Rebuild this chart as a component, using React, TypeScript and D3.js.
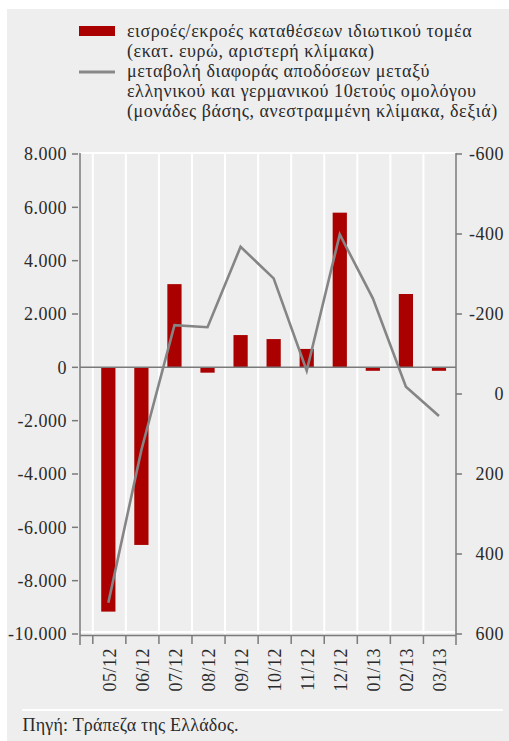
import React from "react";
import * as d3 from "d3";

const categories = ["05/12", "06/12", "07/12", "08/12", "09/12", "10/12", "11/12", "12/12", "01/13", "02/13", "03/13"];
const depositFlows = [-9160, -6660, 3120, -200, 1210, 1060, 690, 5800, -130, 2750, -130];
const spreadChange = [522, 140, -172, -167, -368, -289, -58, -399, -239, -18, 55];
const leftTicks = [8000, 6000, 4000, 2000, 0, -2000, -4000, -6000, -8000, -10000];
const rightTicks = [-600, -400, -200, 0, 200, 400, 600];
const legendLines = [
  "εισροές/εκροές καταθέσεων ιδιωτικού τομέα",
  "(εκατ. ευρώ, αριστερή κλίμακα)",
  "μεταβολή διαφοράς αποδόσεων μεταξύ",
  "ελληνικού και γερμανικού 10ετούς ομολόγου",
  "(μονάδες βάσης, ανεστραμμένη κλίμακα, δεξιά)",
];
const sourceText = "Πηγή: Τράπεζα της Ελλάδος.";

const W = 509;
const H = 741;
const FONT = "'Liberation Serif', 'DejaVu Serif', serif";

const fmt = (v: number) => {
  const s = d3.format(",")(Math.abs(v)).replace(/,/g, ".");
  return (v < 0 ? "-" : "") + s;
};

export default function App() {
  const x0 = 80;
  const x1 = 456;
  const yTop = 154;
  const yBot = 634;
  const x = d3.scaleBand<string>().domain(categories).range([92.8, 456.5]).padding(0);
  const yL = d3.scaleLinear().domain([-10000, 8000]).range([yBot, yTop]);
  const yR = d3.scaleLinear().domain([-600, 600]).range([yTop, yBot]);
  const bw = x.bandwidth();
  const barW = bw * 0.43;
  const cx = (c: string) => (x(c) as number) + bw / 2 - 1;

  const line = d3
    .line<number>()
    .x((_, i) => cx(categories[i]))
    .y((d) => yR(d));

  const textColor = "#2a2a2a";
  const axisColor = "#7a7a7a";

  return (
    <svg width={W} height={H} style={{ position: "absolute", left: 0, top: 0 }} fontFamily={FONT}>
      <rect x={7} y={9} width={W - 7} height={H - 9} fill="#eeeeee" />
      {/* legend */}
      <rect x={79} y={26} width={36} height={10} fill="#aa0000" />
      <line x1={79} x2={115} y1={72} y2={72} stroke="#888" strokeWidth={3} />
      {legendLines.map((t, i) => (
        <text key={i} x={127} y={37 + i * 20} fontSize={18} letterSpacing={0.55} fill={textColor}>
          {t}
        </text>
      ))}
      {/* gridlines */}
      {categories.map((c) => (
        <line key={c} x1={x(c)} x2={x(c)} y1={yTop - 1} y2={yBot} stroke="#fff" strokeWidth={2} />
      ))}
      <line x1={x0} x2={x1} y1={yTop - 1} y2={yTop - 1} stroke="#fff" strokeWidth={2} />
      <line x1={x0} x2={x1} y1={yBot - 2} y2={yBot - 2} stroke="#fff" strokeWidth={2} />
      {/* bars */}
      {categories.map((c, i) => {
        const v = depositFlows[i];
        const y0 = yL(0);
        const y1 = yL(v);
        return (
          <rect
            key={c}
            x={cx(c) - barW / 2}
            y={Math.min(y0, y1)}
            width={barW}
            height={Math.abs(y1 - y0)}
            fill="#aa0000"
          />
        );
      })}
      {/* zero line */}
      <line x1={x0} x2={x1} y1={yL(0)} y2={yL(0)} stroke={axisColor} strokeWidth={1.5} />
      {/* line series */}
      <path d={line(spreadChange) || ""} fill="none" stroke="#858585" strokeWidth={2.6} strokeLinejoin="miter" />
      {/* left axis */}
      <line x1={x0} x2={x0} y1={yTop - 1} y2={645} stroke={axisColor} strokeWidth={1.5} />
      {leftTicks.map((t) => (
        <g key={t}>
          <line x1={72} x2={78} y1={yL(t)} y2={yL(t)} stroke={axisColor} strokeWidth={1.5} />
          <text x={67} y={yL(t)} dy="0.35em" textAnchor="end" fontSize={18} letterSpacing={0.5} fill={textColor}>
            {fmt(t)}
          </text>
        </g>
      ))}
      {/* right axis */}
      <line x1={x1} x2={x1} y1={yTop - 1} y2={645} stroke={axisColor} strokeWidth={1.5} />
      {rightTicks.map((t) => (
        <g key={t}>
          <line x1={x1} x2={462} y1={yR(t)} y2={yR(t)} stroke={axisColor} strokeWidth={1.5} />
          <text x={504} y={yR(t)} dy="0.35em" textAnchor="end" fontSize={18} letterSpacing={0.5} fill={textColor}>
            {fmt(t)}
          </text>
        </g>
      ))}
      {/* bottom axis */}
      <line x1={x0} x2={x1} y1={635.5} y2={635.5} stroke={axisColor} strokeWidth={1.5} />
      {categories.map((c) => (
        <line key={c} x1={x(c)} x2={x(c)} y1={635.5} y2={644} stroke={axisColor} strokeWidth={1.5} />
      ))}
      {categories.map((c) => (
        <text
          key={c}
          transform={`translate(${cx(c) + 1},648) rotate(-90)`}
          dy="0.35em"
          textAnchor="end"
          fontSize={18}
          letterSpacing={0.5}
          fill={textColor}
        >
          {c}
        </text>
      ))}
      {/* footer */}
      <line x1={22} x2={503} y1={710} y2={710} stroke="#fff" strokeWidth={2} />
      <text x={22.5} y={731} fontSize={18} letterSpacing={0.2} fill={textColor}>
        {sourceText}
      </text>
    </svg>
  );
}
